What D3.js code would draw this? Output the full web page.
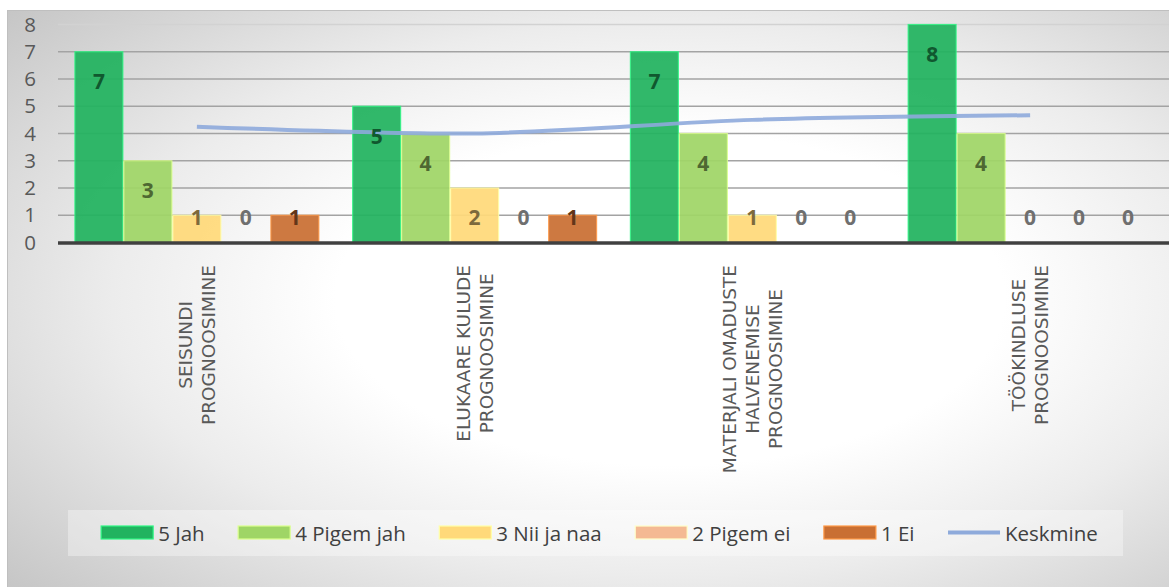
<!DOCTYPE html>
<html>
<head>
<meta charset="utf-8">
<script src="https://cdn.jsdelivr.net/npm/d3@7"></script>
<style>
  html, body { margin: 0; padding: 0; background: #ffffff; }
  svg { display: block; }
</style>
</head>
<body>
<svg id="chart" width="1169" height="587"></svg>
<script>
// Category names (multi-line labels under the axis)
const categories = [
  "SEISUNDI PROGNOOSIMINE",
  "ELUKAARE KULUDE PROGNOOSIMINE",
  "MATERJALI OMADUSTE HALVENEMISE PROGNOOSIMINE",
  "TÖÖKINDLUSE PROGNOOSIMINE"
];
const categoryLines = [
  ["SEISUNDI", "PROGNOOSIMINE"],
  ["ELUKAARE KULUDE", "PROGNOOSIMINE"],
  ["MATERJALI OMADUSTE", "HALVENEMISE", "PROGNOOSIMINE"],
  ["TÖÖKINDLUSE", "PROGNOOSIMINE"]
];

// Answer series (counts per category)
const seriesNames = ["5 Jah", "4 Pigem jah", "3 Nii ja naa", "2 Pigem ei", "1 Ei"];
const jah        = [7, 5, 7, 8];
const pigemJah   = [3, 4, 4, 4];
const niiJaNaa   = [1, 2, 1, 0];
const pigemEi    = [0, 0, 0, 0];
const ei         = [1, 1, 0, 0];
const seriesValues = [jah, pigemJah, niiJaNaa, pigemEi, ei];

// Average score per category
const lineName = "Keskmine";
const keskmine = [4.25, 4.0, 4.5, 4.67];

const yTicks = [0, 1, 2, 3, 4, 5, 6, 7, 8];

const seriesColors = ["#21b35f", "#9fd566", "#ffd97a", "#f4b993", "#c96f33"];
const lineColor = "#8eaadb";

const svg = d3.select("#chart");
const W = 1169, H = 587;

// ---- chart area background (elliptical radial gradient) ----
const defs = svg.append("defs");
const grad = defs.append("radialGradient")
  .attr("id", "bg")
  .attr("cx", 0.57).attr("cy", 0.5).attr("r", 0.8)
  .attr("fx", 0.57).attr("fy", 0.5);
grad.append("stop").attr("offset", "0").attr("stop-color", "#ffffff");
grad.append("stop").attr("offset", "0.36").attr("stop-color", "#ffffff");
grad.append("stop").attr("offset", "0.6").attr("stop-color", "#ececec");
grad.append("stop").attr("offset", "0.8").attr("stop-color", "#d6d6d6");
grad.append("stop").attr("offset", "1").attr("stop-color", "#c0c0c0");

svg.append("rect")
  .attr("x", 7.5).attr("y", 10.5)
  .attr("width", W - 7).attr("height", H - 10)
  .attr("fill", "url(#bg)")
  .attr("stroke", "#bfbfbf").attr("stroke-width", 1);

// ---- scales ----
const plotLeft = 58, plotRight = 1169;
const x0 = d3.scaleBand()
  .domain(categories)
  .range([plotLeft, plotRight])
  .paddingInner(0.118)
  .paddingOuter(0.059);
const x1 = d3.scaleBand()
  .domain(seriesNames)
  .range([0, x0.bandwidth()])
  .padding(0);
const y = d3.scaleLinear().domain([0, 8]).range([242.5, 24.5]);

// ---- gridlines ----
const grid = svg.append("g");
grid.selectAll("line")
  .data(yTicks.filter(t => t > 0))
  .join("line")
  .attr("x1", plotLeft).attr("x2", plotRight)
  .attr("y1", d => y(d)).attr("y2", d => y(d))
  .attr("stroke", d => d === 8 ? "#d2d2d2" : "#a3a3a3")
  .attr("stroke-width", 1.5);

// ---- y axis labels ----
const yAxis = d3.axisLeft(y).tickValues(yTicks).tickSize(0).tickPadding(0).tickFormat(d3.format("d"));
const yg = svg.append("g").attr("transform", "translate(36,0)").call(yAxis);
yg.select(".domain").remove();
yg.selectAll("text")
  .attr("font-family", "'Open Sans', sans-serif")
  .attr("font-size", 20.5)
  .attr("fill", "#595959");

// ---- bars ----
const flat = [];
categories.forEach((c, ci) => {
  seriesNames.forEach((s, si) => {
    flat.push({ cat: c, ci, series: s, si, value: seriesValues[si][ci] });
  });
});

const bars = svg.append("g");
bars.selectAll("rect")
  .data(flat.filter(d => d.value > 0))
  .join("rect")
  .attr("x", d => x0(d.cat) + x1(d.series) + 0.5)
  .attr("width", x1.bandwidth() - 1)
  .attr("y", d => y(d.value))
  .attr("height", d => y(0) - y(d.value))
  .attr("fill", d => seriesColors[d.si])
  .attr("fill-opacity", 0.93)
  .attr("stroke", d => d3.color(seriesColors[d.si]).brighter(0.9))
  .attr("stroke-opacity", 0.8)
  .attr("stroke-width", 1.2);

// ---- axis baseline ----
svg.append("line")
  .attr("x1", plotLeft).attr("x2", plotRight)
  .attr("y1", y(0) + 0.5).attr("y2", y(0) + 0.5)
  .attr("stroke", "#404040").attr("stroke-width", 3.5);

// ---- average line (smoothed) ----
const line = d3.line()
  .x((d, i) => x0(categories[i]) + x0.bandwidth() / 2)
  .y(d => y(d))
  .curve(d3.curveCardinal.tension(0.2));
svg.append("path")
  .datum(keskmine)
  .attr("d", line)
  .attr("fill", "none")
  .attr("stroke", lineColor)
  .attr("stroke-opacity", 0.9)
  .attr("stroke-width", 4)
  .attr("stroke-linecap", "butt");

// ---- data labels ----
svg.append("g").selectAll("text")
  .data(flat)
  .join("text")
  .attr("x", d => x0(d.cat) + x1(d.series) + x1.bandwidth() / 2)
  .attr("y", d => y(Math.max(d.value, 2) - 1) + 2)
  .attr("text-anchor", "middle")
  .attr("dominant-baseline", "central")
  .attr("font-family", "'Open Sans', sans-serif")
  .attr("font-weight", "bold")
  .attr("font-size", 21)
  .attr("fill", d => d.value > 0 ? d3.color(seriesColors[d.si]).darker(2).formatHex() : "#6f6f6f")
  .text(d => d.value);

// ---- category labels (rotated, lines centred on each other) ----
const catFont = 18.5, catLineH = 23, catTop = 265;
const catG = svg.append("g")
  .attr("font-family", "'DejaVu Sans', sans-serif")
  .attr("font-size", catFont)
  .attr("fill", "#595959");
categories.forEach((c, ci) => {
  const lines = categoryLines[ci];
  const cx = x0(c) + x0.bandwidth() / 2;
  const texts = lines.map((t, li) => {
    const lx = cx + (li - (lines.length - 1) / 2) * catLineH;
    return catG.append("text")
      .attr("text-anchor", "middle")
      .attr("dominant-baseline", "central")
      .datum(lx)
      .text(t);
  });
  const maxLen = d3.max(texts, t => t.node().getComputedTextLength());
  const cy = catTop + maxLen / 2;
  texts.forEach(t => {
    const lx = t.datum();
    t.attr("transform", `translate(${lx},${cy}) rotate(-90)`);
  });
});

// ---- legend ----
svg.append("rect")
  .attr("x", 68).attr("y", 510).attr("width", 1055).attr("height", 46)
  .attr("fill", "#ffffff").attr("fill-opacity", 0.35);

const legendItems = seriesNames.map((n, i) => ({ name: n, type: "bar", color: seriesColors[i] }))
  .concat([{ name: lineName, type: "line", color: lineColor }]);
const legend = svg.append("g");
const swW = 52, swH = 13, swGap = 5, itemGap = 33.5, legY = 532.5;
let cursor = 0;
const placed = legendItems.map(it => {
  const g = legend.append("g");
  if (it.type === "bar") {
    g.append("rect")
      .attr("x", 0).attr("y", -swH / 2).attr("width", swW).attr("height", swH)
      .attr("fill", it.color)
      .attr("stroke", d3.color(it.color).brighter(0.9)).attr("stroke-width", 1.2);
  } else {
    g.append("line")
      .attr("x1", 0).attr("x2", swW).attr("y1", 0).attr("y2", 0)
      .attr("stroke", it.color).attr("stroke-width", 4);
  }
  const t = g.append("text")
    .attr("x", swW + swGap).attr("y", 0)
    .attr("dominant-baseline", "central")
    .attr("font-family", "'Open Sans', sans-serif")
    .attr("font-size", 20.5)
    .attr("fill", "#404040")
    .text(it.name);
  const w = swW + swGap + t.node().getComputedTextLength();
  const start = cursor;
  cursor += w + itemGap;
  return { g, start, w };
});
const totalW = cursor - itemGap;
const legStart = 599.5 - totalW / 2;
placed.forEach(p => p.g.attr("transform", `translate(${legStart + p.start},${legY})`));
</script>
</body>
</html>
